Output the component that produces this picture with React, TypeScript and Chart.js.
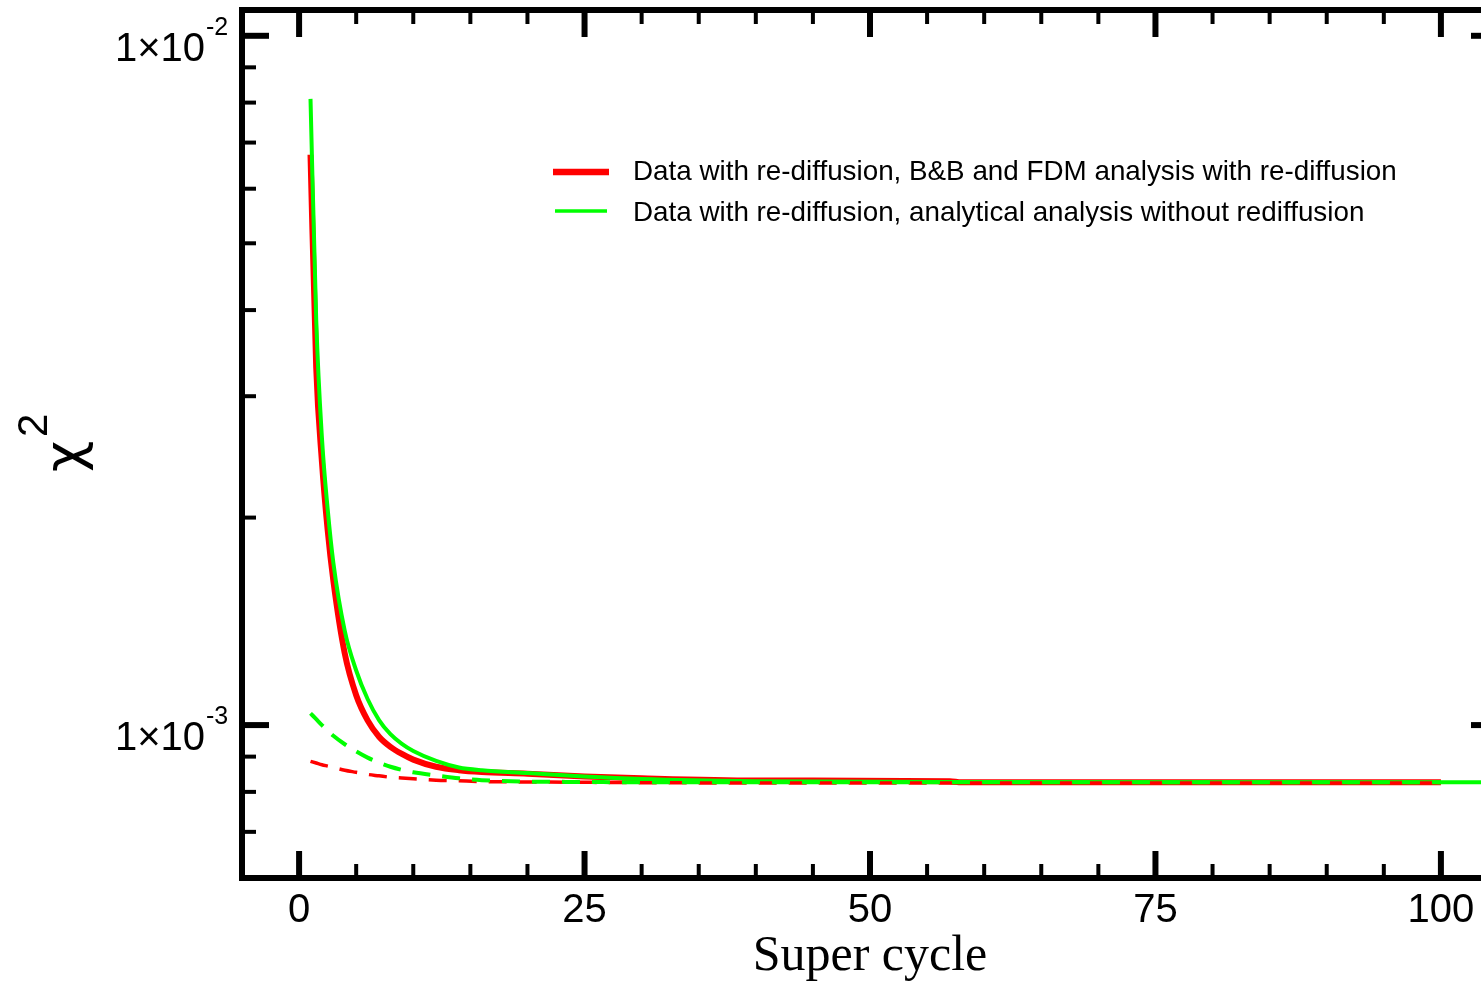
import React, { useEffect, useRef } from "react";
import { Chart, registerables } from "chart.js";

Chart.register(...registerables);

// Super-cycle sample positions (x)
const cycles = [1, 1.5, 2, 2.5, 3, 4, 5, 6, 7, 8, 9, 10, 12, 14, 16, 20, 25, 30, 40, 57, 58, 100, 105];

// Data with re-diffusion, B&B and FDM analysis with re-diffusion (red, solid)
const redSolid = [6.72e-3, 3.3e-3, 2.41e-3, 1.92e-3, 1.62e-3, 1.27e-3, 1.105e-3, 1.016e-3, 9.62e-4, 9.3e-4, 9.08e-4, 8.91e-4, 8.7e-4, 8.6e-4, 8.55e-4, 8.5e-4, 8.42e-4, 8.37e-4, 8.31e-4, 8.29e-4, 8.26e-4, 8.26e-4, null];

// Data with re-diffusion, analytical analysis without rediffusion (green, solid)
const greenSolid = [8.1e-3, 3.87e-3, 2.61e-3, 2.06e-3, 1.72e-3, 1.37e-3, 1.2e-3, 1.091e-3, 1.017e-3, 9.7e-4, 9.39e-4, 9.17e-4, 8.87e-4, 8.68e-4, 8.6e-4, 8.52e-4, 8.42e-4, 8.35e-4, 8.29e-4, 8.27e-4, 8.27e-4, 8.26e-4, 8.26e-4];

// dashed companions
const redDashed = [8.86e-4, 8.81e-4, 8.76e-4, 8.72e-4, 8.68e-4, 8.6e-4, 8.54e-4, 8.48e-4, 8.44e-4, 8.4e-4, 8.38e-4, 8.36e-4, 8.32e-4, 8.3e-4, 8.28e-4, 8.27e-4, 8.26e-4, 8.25e-4, 8.24e-4, 8.24e-4, 8.24e-4, 8.24e-4, null];
const greenDashed = [1.04e-3, 1.02e-3, 1.0e-3, 9.82e-4, 9.65e-4, 9.38e-4, 9.16e-4, 8.97e-4, 8.82e-4, 8.7e-4, 8.61e-4, 8.54e-4, 8.45e-4, 8.37e-4, 8.32e-4, 8.28e-4, 8.27e-4, 8.26e-4, 8.26e-4, 8.26e-4, 8.26e-4, 8.26e-4, null];

const seriesLabels = [
  "Data with re-diffusion, B&B and FDM analysis with re-diffusion",
  "Data with re-diffusion, analytical analysis without rediffusion",
];

const xMajorTicks = [0, 25, 50, 75, 100];
const xMinorTicks = [0, 5, 10, 15, 20, 25, 30, 35, 40, 45, 50, 55, 60, 65, 70, 75, 80, 85, 90, 95, 100];
const yMajorTicks = [1e-3, 1e-2];
const yMajorLabels = [
  { base: "1×10", exp: "-3" },
  { base: "1×10", exp: "-2" },
];
const yMinorTicks = [7e-4, 8e-4, 9e-4, 2e-3, 3e-3, 4e-3, 5e-3, 6e-3, 7e-3, 8e-3, 9e-3];

const xTitle = "Super cycle";
const yTitle = "χ";
const yTitleSup = "2";

const RED = "#ff0000";
const GREEN = "#00ff00";
const SANS = '"Liberation Sans", Arial, Helvetica, sans-serif';
const SERIF = '"Liberation Serif", "Times New Roman", serif';
const GREEK = '"DejaVu Sans", "Liberation Sans", sans-serif';

const toPoints = (ys: (number | null)[]) =>
  cycles.map((x, i) => ({ x, y: ys[i] })).filter((p) => p.y !== null);

const framePlugin = {
  id: "frameAndAnnotations",
  afterDatasetsDraw(chart: any) {
    const { ctx, chartArea: a, scales } = chart;
    const xs = scales.x;
    const ys = scales.y;
    ctx.save();
    ctx.strokeStyle = "#000";
    ctx.fillStyle = "#000";
    ctx.lineCap = "butt";
    const seg = (x1: number, y1: number, x2: number, y2: number, w: number) => {
      ctx.lineWidth = w;
      ctx.beginPath();
      ctx.moveTo(x1, y1);
      ctx.lineTo(x2, y2);
      ctx.stroke();
    };
    // x ticks (bottom and top)
    xMinorTicks.forEach((v) => {
      const px = xs.getPixelForValue(v);
      const major = xMajorTicks.includes(v);
      const L = major ? 27 : 14;
      const w = major ? 6 : 4;
      seg(px, a.bottom, px, a.bottom - L, w);
      seg(px, a.top, px, a.top + L, w);
    });
    // y ticks (left and right)
    yMajorTicks.forEach((v) => {
      const py = ys.getPixelForValue(v);
      seg(a.left, py, a.left + 27, py, 6);
      seg(a.right, py, a.right - 27, py, 6);
    });
    yMinorTicks.forEach((v) => {
      const py = ys.getPixelForValue(v);
      seg(a.left, py, a.left + 14, py, 4);
      seg(a.right, py, a.right - 14, py, 4);
    });
    // frame
    ctx.lineWidth = 6;
    ctx.strokeRect(a.left, a.top, a.right - a.left, a.bottom - a.top);

    // x tick labels
    ctx.font = `40px ${SANS}`;
    ctx.textAlign = "center";
    ctx.textBaseline = "alphabetic";
    xMajorTicks.forEach((v) => {
      ctx.fillText(String(v), xs.getPixelForValue(v), a.bottom + 44);
    });
    // y tick labels
    yMajorTicks.forEach((v, i) => {
      const py = ys.getPixelForValue(v);
      ctx.font = `40px ${SANS}`;
      ctx.textAlign = "right";
      ctx.fillText(yMajorLabels[i].base, a.left - 37, py + 25);
      ctx.font = `25px ${SANS}`;
      ctx.textAlign = "left";
      ctx.fillText(yMajorLabels[i].exp, a.left - 36, py - 1);
    });
    // x title
    ctx.font = `50px ${SERIF}`;
    ctx.textAlign = "center";
    ctx.fillText(xTitle, xs.getPixelForValue(50), 970);
    // y title (rotated)
    ctx.textAlign = "left";
    ctx.save();
    ctx.translate(82, 472);
    ctx.rotate(-Math.PI / 2);
    ctx.font = `54px ${GREEK}`;
    ctx.fillText(yTitle, 0, 0);
    ctx.restore();
    ctx.save();
    ctx.translate(47, 437);
    ctx.rotate(-Math.PI / 2);
    ctx.font = `42px ${SANS}`;
    ctx.fillText(yTitleSup, 0, 0);
    ctx.restore();

    // legend
    ctx.strokeStyle = RED;
    seg(553, 172, 609, 172, 6.5);
    ctx.strokeStyle = GREEN;
    seg(555, 211, 607, 211, 3.5);
    ctx.fillStyle = "#000";
    ctx.font = `27.8px ${SANS}`;
    ctx.textAlign = "left";
    ctx.fillText(seriesLabels[0], 633, 180);
    ctx.fillText(seriesLabels[1], 633, 221);
    ctx.restore();
  },
};

export default function App() {
  const canvasRef = useRef<HTMLCanvasElement | null>(null);

  useEffect(() => {
    const canvas = canvasRef.current;
    if (!canvas) return;
    const chart = new Chart(canvas, {
      type: "line",
      data: {
        datasets: [
          {
            label: seriesLabels[0],
            data: toPoints(redSolid),
            borderColor: RED,
            borderWidth: 6,
            pointRadius: 0,
            cubicInterpolationMode: "monotone",
            order: 4,
          },
          {
            label: seriesLabels[1],
            data: toPoints(greenSolid),
            borderColor: GREEN,
            borderWidth: 4,
            pointRadius: 0,
            cubicInterpolationMode: "monotone",
            order: 3,
          },
          {
            label: "red dashed",
            data: toPoints(redDashed),
            borderColor: RED,
            borderWidth: 3.5,
            borderDash: [18, 12],
            pointRadius: 0,
            cubicInterpolationMode: "monotone",
            order: 2,
          },
          {
            label: "green dashed",
            data: toPoints(greenDashed),
            borderColor: GREEN,
            borderWidth: 4,
            borderDash: [18, 12],
            pointRadius: 0,
            cubicInterpolationMode: "monotone",
            order: 1,
          },
        ],
      },
      options: {
        animation: false,
        responsive: false,
        devicePixelRatio: 1,
        layout: { padding: { left: 242, top: 10, right: 22, bottom: 106 } },
        plugins: {
          legend: { display: false },
          tooltip: { enabled: false },
        },
        scales: {
          x: { type: "linear", display: false, min: -5, max: 105 },
          y: { type: "logarithmic", display: false, min: 6e-4, max: 0.0109 },
        },
      },
      plugins: [framePlugin],
    } as any);
    return () => chart.destroy();
  }, []);

  return (
    <div style={{ position: "fixed", left: 0, top: 0, width: 1520, height: 984, background: "#fff" }}>
      <canvas ref={canvasRef} width={1520} height={984} style={{ display: "block" }} />
    </div>
  );
}
